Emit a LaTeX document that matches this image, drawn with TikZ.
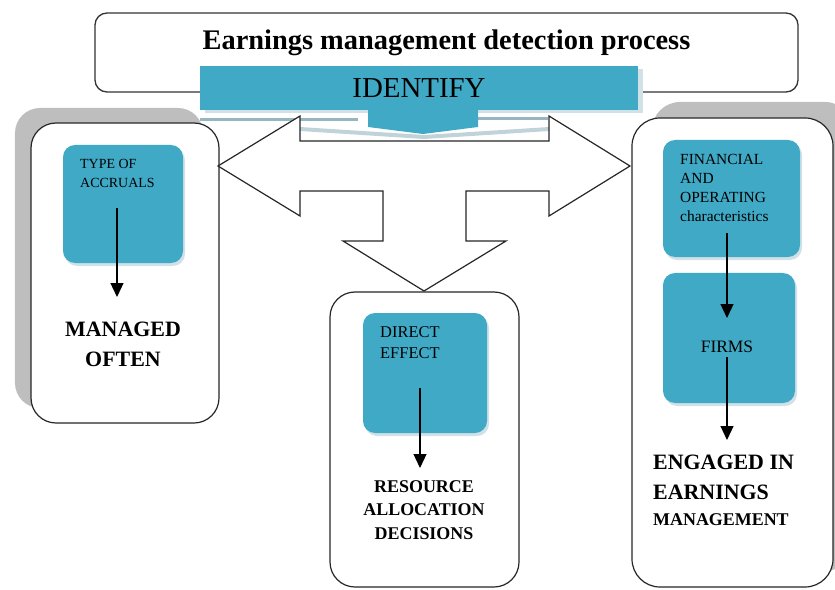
\documentclass[tikz,border=0pt]{standalone}
\usepackage{fontspec}
\setmainfont{Liberation Serif}
\usetikzlibrary{arrows.meta,shadows,positioning}
\definecolor{boxteal}{RGB}{64,170,198}
\definecolor{tealglow}{RGB}{208,226,232}
\definecolor{shadowgray}{RGB}{190,190,190}
\definecolor{reflectblue}{RGB}{150,182,192}

\begin{document}
\begin{tikzpicture}[x=1bp,y=-1bp,
  outerbox/.style={draw=black!85, line width=1.2bp, rounded corners=25bp, fill=white},
  innerbox/.style={fill=boxteal, rounded corners=12bp, inner sep=0pt,
    drop shadow={shadow xshift=2bp, shadow yshift=-3bp, fill=tealglow, opacity=1}},
  smalltext/.style={font=\fontsize{14.5}{19}\selectfont, align=left, inner sep=0pt},
  boldtext/.style={font=\bfseries\fontsize{22}{30}\selectfont, align=center, inner sep=0pt},
  flow/.style={-{Triangle[length=14bp,width=13bp]}, line width=1.2bp},
  bigarrow/.style={draw=black!85, line width=1.2bp, fill=white, line join=miter}]

  \useasboundingbox (0,0) rectangle (835,590);

  \node[draw=black!80, line width=1.3bp, rounded corners=12bp, minimum width=703bp, minimum height=79bp] (title) at (446.5,52.5) {};
  \node[font=\bfseries\fontsize{28.5}{30}\selectfont, inner sep=0pt] (titletext) at (446.5,43) {Earnings management detection process};

  \node[outerbox, minimum width=188bp, minimum height=300bp,
    drop shadow={shadow xshift=-16bp, shadow yshift=15bp, fill=shadowgray, opacity=1}] (accbox) at (125,273) {};
  \node[outerbox, minimum width=189bp, minimum height=295bp] (effbox) at (424.5,439.5) {};
  \node[outerbox, rounded corners=28bp, minimum width=201bp, minimum height=469bp,
    drop shadow={shadow xshift=20bp, shadow yshift=16bp, fill=shadowgray, opacity=1}] (firmbox) at (732.5,352.5) {};

  \draw[reflectblue, line width=3bp] (200,120) -- (358,120);
  \draw[reflectblue, line width=3bp] (478,119) -- (548,119);
  \fill[reflectblue!60] (300,127) -- (424,135) -- (549,127) -- (549,131) -- (424,139) -- (300,131) -- cycle;

  \node[fill=boxteal, minimum width=438bp, minimum height=44bp, inner sep=0pt, font=\fontsize{29}{30}\selectfont,
    drop shadow={shadow xshift=5bp, shadow yshift=-3bp, fill=tealglow, opacity=1}] (identify) at (419,88) {IDENTIFY};
  \fill[boxteal] (368,108) -- (368,127) -- (423,134) -- (478,127) -- (478,108) -- cycle;

  \draw[bigarrow] (218,166) -- (300,116) -- (300,141) -- (549,141) -- (549,116) -- (630,166) -- (549,216)
    -- (549,191) -- (466,191) -- (466,241) -- (506,241) -- (424,291) -- (343,241) -- (383,241)
    -- (383,191) -- (300,191) -- (300,216) -- cycle;

  \node[innerbox, minimum width=120bp, minimum height=118bp] (accruals) at (123,204) {};
  \node[innerbox, minimum width=137bp, minimum height=117bp] (financial) at (731.5,198.5) {};
  \node[innerbox, minimum width=132bp, minimum height=130bp] (firms) at (729,338) {};
  \node[innerbox, minimum width=124bp, minimum height=120bp] (direct) at (425,373) {};

  \node[smalltext, font=\fontsize{14}{19}\selectfont, anchor=north west] (acctext) at (80,159) {TYPE OF\\ACCRUALS};
  \node[smalltext, font=\fontsize{15.5}{19}\selectfont, anchor=north west] (fintext) at (680,154) {FINANCIAL\\AND\\OPERATING\\characteristics};
  \node[smalltext, font=\fontsize{16.5}{21}\selectfont, anchor=north west] (directtext) at (380,326) {DIRECT\\EFFECT};
  \node[font=\fontsize{17.5}{19}\selectfont, inner sep=0pt] (firmstext) at (727,347) {FIRMS};

  \node[boldtext, anchor=north] (managed) at (123,322) {MANAGED\\OFTEN};
  \node[boldtext, font=\bfseries\fontsize{18}{24}\selectfont, anchor=north] (resource) at (424,480) {RESOURCE\\ALLOCATION\\DECISIONS};
  \node[boldtext, align=left, anchor=north west] (engaged) at (653,455) {ENGAGED IN\\EARNINGS\\[-4bp]{\fontsize{18}{20}\selectfont MANAGEMENT}};

  \coordinate (accstart) at (117,208);
  \coordinate (accend) at (117,297);
  \coordinate (directstart) at (420,388);
  \coordinate (directend) at (420,468);
  \coordinate (finstart) at (727,233);
  \coordinate (finend) at (727,318);
  \coordinate (firmsstart) at (727,357);
  \coordinate (firmsend) at (727,440);

  \draw[flow] (accstart) -- (accend);
  \draw[flow] (directstart) -- (directend);
  \draw[flow] (finstart) -- (finend);
  \draw[flow] (firmsstart) -- (firmsend);

\end{tikzpicture}
\end{document}
